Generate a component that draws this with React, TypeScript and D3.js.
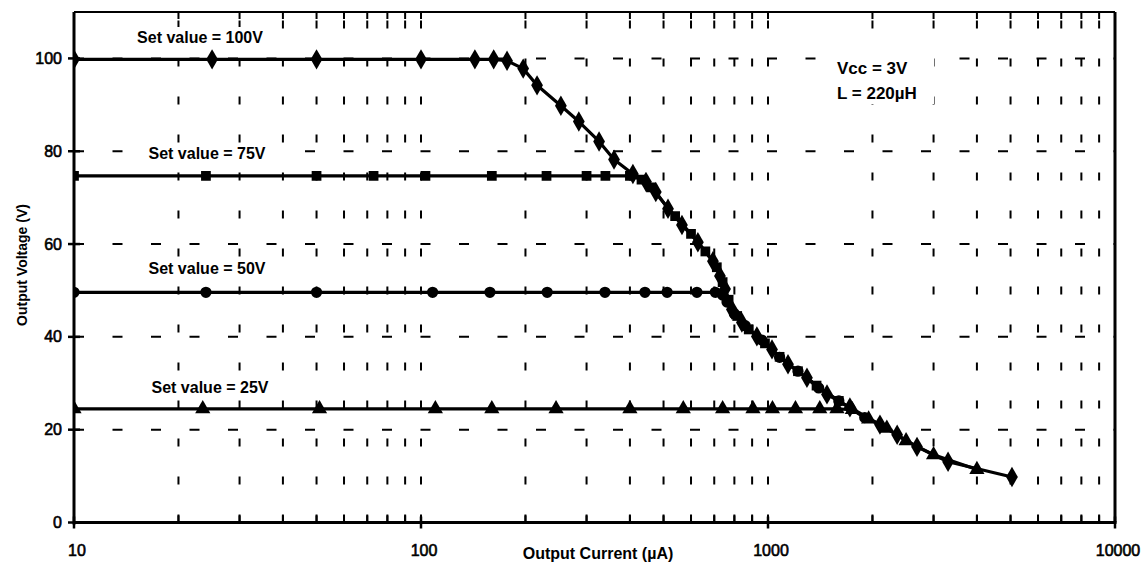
import * as d3 from "d3";

// tick labels
const xTickValues = [10, 100, 1000, 10000];
const xTickLabels = ["10", "100", "1000", "10000"];
const yTickValues = [0, 20, 40, 60, 80, 100];

// Set value = 100V
const current100 = [10, 25, 50, 100, 143, 162, 177, 197, 216, 253, 285, 326, 360, 408, 445, 475, 515, 565, 628, 694, 727, 752, 787, 841, 929, 1027, 1142, 1295, 1479, 1722, 2102, 2356, 2688, 3303, 5048];
const volts100 = [99.8, 99.8, 99.8, 99.8, 99.8, 99.8, 99.5, 97.8, 94.2, 89.8, 86.4, 82.1, 78.2, 75.1, 73.4, 71.2, 67.6, 64.1, 60.4, 56.3, 53.1, 50.3, 45.9, 43.1, 40.1, 37.3, 34.1, 31.2, 27.6, 24.8, 21.1, 18.9, 16.3, 13.1, 9.8];

// Set value = 75V
const current75 = [10, 24, 50, 73, 103, 160, 230, 300, 340, 400, 432, 460, 540, 600, 660, 712, 740, 770, 815, 880, 980, 1080, 1220, 1380, 1600];
const volts75 = [74.7, 74.7, 74.7, 74.7, 74.7, 74.7, 74.7, 74.7, 74.7, 74.7, 73.9, 72.2, 66.0, 62.2, 58.4, 55.0, 51.8, 48.0, 44.5, 41.6, 38.6, 35.7, 32.6, 29.5, 26.2];

// Set value = 50V
const current50 = [10, 24, 50, 108, 158, 231, 339, 442, 512, 624, 705, 740, 762, 800, 860, 960, 1080, 1220, 1400, 1600, 1900];
const volts50 = [49.6, 49.6, 49.6, 49.6, 49.6, 49.6, 49.6, 49.6, 49.6, 49.6, 49.6, 49.0, 47.5, 45.0, 42.4, 39.3, 35.6, 32.6, 29.0, 26.2, 22.6];

// Set value = 25V
const current25 = [10, 23.5, 51, 110, 160, 245, 400, 570, 740, 905, 1030, 1200, 1410, 1580, 1750, 1950, 2200, 2500, 3000, 4000];
const volts25 = [24.5, 24.5, 24.5, 24.5, 24.5, 24.5, 24.5, 24.5, 24.5, 24.5, 24.5, 24.5, 24.5, 24.5, 24.3, 22.3, 20.3, 17.6, 14.6, 11.4];

const W = 1141;
const H = 567;
const left = 74, right = 1115, top = 12, bottom = 522.5;
const font = "'Liberation Sans', Arial, sans-serif";

const x = d3.scaleLog().domain([10, 10000]).range([left, right]);
const y = d3.scaleLinear().domain([0, 110]).range([bottom, top]);

const series = [
  { I: current100, V: volts100, sym: d3.symbolDiamond, size: 120 },
  { I: current75, V: volts75, sym: d3.symbolSquare, size: 95 },
  { I: current50, V: volts50, sym: d3.symbolCircle, size: 100 },
  { I: current25, V: volts25, sym: d3.symbolTriangle, size: 100 },
];

const labels = [
  { text: "Set value = 100V", x: 200, y: 37 },
  { text: "Set value = 75V", x: 207, y: 153 },
  { text: "Set value = 50V", x: 207, y: 268 },
  { text: "Set value = 25V", x: 210, y: 387 },
];

export default function App() {
  const gridX = x.ticks().filter((v) => v > 10 && v < 10000);
  const gridY = yTickValues.filter((v) => v > 0);

  return (
    <svg width={W} height={H} style={{ position: "absolute", left: 0, top: 0, background: "#fff" }} fontFamily={font}>
      <defs>
        <clipPath id="plot">
          <rect x={left} y={top - 6} width={right - left} height={bottom - top + 6} />
        </clipPath>
      </defs>
      <rect width={W} height={H} fill="#fff" />

      {/* grid */}
      {gridY.map((v) => (
        <line key={"gy" + v} x1={left} x2={right} y1={y(v)} y2={y(v)} stroke="#000" strokeWidth={2} strokeDasharray="10,28.5" />
      ))}
      {gridX.map((v) => (
        <line key={"gx" + v} x1={x(v)} x2={x(v)} y1={bottom} y2={top} stroke="#000" strokeWidth={2} strokeDasharray="8,30" />
      ))}
      {/* minor ticks top/bottom */}
      {gridX.map((v) => (
        <g key={"tk" + v}>
          <line x1={x(v)} x2={x(v)} y1={top} y2={top + 7} stroke="#000" strokeWidth={2} />
          <line x1={x(v)} x2={x(v)} y1={bottom} y2={bottom - 7} stroke="#000" strokeWidth={2} />
        </g>
      ))}

      {/* label backgrounds and labels */}
      {labels.map((l) => (
        <g key={l.text}>
          <rect x={l.x - 70} y={l.y - 10} width={140} height={20} fill="#fff" />
          <text x={l.x} y={l.y} textAnchor="middle" dominantBaseline="central" fontWeight="bold" fontSize={16}>
            {l.text}
          </text>
        </g>
      ))}
      <rect x={834} y={56} width={100} height={48} fill="#fff" />
      <text x={837} y={68} dominantBaseline="central" fontWeight="bold" fontSize={17}>Vcc = 3V</text>
      <text x={837} y={93} dominantBaseline="central" fontWeight="bold" fontSize={17}>L = 220µH</text>

      {/* series */}
      <g clipPath="url(#plot)">
        {series.map((s, i) => {
          const pts = s.I.map((c, j) => [x(c), y(s.V[j])] as [number, number]);
          const path = d3.line()(pts) || "";
          const sym = d3.symbol().type(s.sym).size(s.size)() || "";
          return (
            <g key={"s" + i}>
              <path d={path} fill="none" stroke="#000" strokeWidth={3.2} strokeLinejoin="round" />
              {pts.map((p, j) => (
                <path key={j} d={sym} transform={`translate(${p[0]},${p[1]})`} fill="#000" />
              ))}
            </g>
          );
        })}
      </g>

      {/* frame */}
      <line x1={left} x2={right} y1={top} y2={top} stroke="#000" strokeWidth={2} />
      <line x1={right} x2={right} y1={top} y2={bottom} stroke="#000" strokeWidth={3} />
      <line x1={left} x2={right + 1.5} y1={bottom} y2={bottom} stroke="#000" strokeWidth={3} />
      <line x1={left} x2={left} y1={top} y2={bottom + 2} stroke="#000" strokeWidth={3} />

      {/* y ticks */}
      {yTickValues.map((v) => (
        <g key={"yt" + v}>
          <line x1={left - 6} x2={left + 6} y1={y(v)} y2={y(v)} stroke="#000" strokeWidth={2.5} />
          <text x={left - 12} y={y(v)} textAnchor="end" dominantBaseline="central" fontSize={16} stroke="#000" strokeWidth={0.6}>
            {v}
          </text>
        </g>
      ))}
      {/* x ticks */}
      {xTickValues.map((v, i) => (
        <g key={"xt" + v}>
          <line x1={x(v)} x2={x(v)} y1={bottom - 6} y2={bottom + 6} stroke="#000" strokeWidth={2.5} />
          <text x={x(v) + 3} y={550} textAnchor="middle" dominantBaseline="central" fontSize={16} stroke="#000" strokeWidth={0.6}>
            {xTickLabels[i]}
          </text>
        </g>
      ))}

      {/* axis titles */}
      <text x={598} y={553} textAnchor="middle" dominantBaseline="central" fontWeight="bold" fontSize={16}>
        Output Current (µA)
      </text>
      <text transform={`translate(22,265) rotate(-90)`} textAnchor="middle" dominantBaseline="central" fontWeight="bold" fontSize={14}>
        Output Voltage (V)
      </text>
    </svg>
  );
}
